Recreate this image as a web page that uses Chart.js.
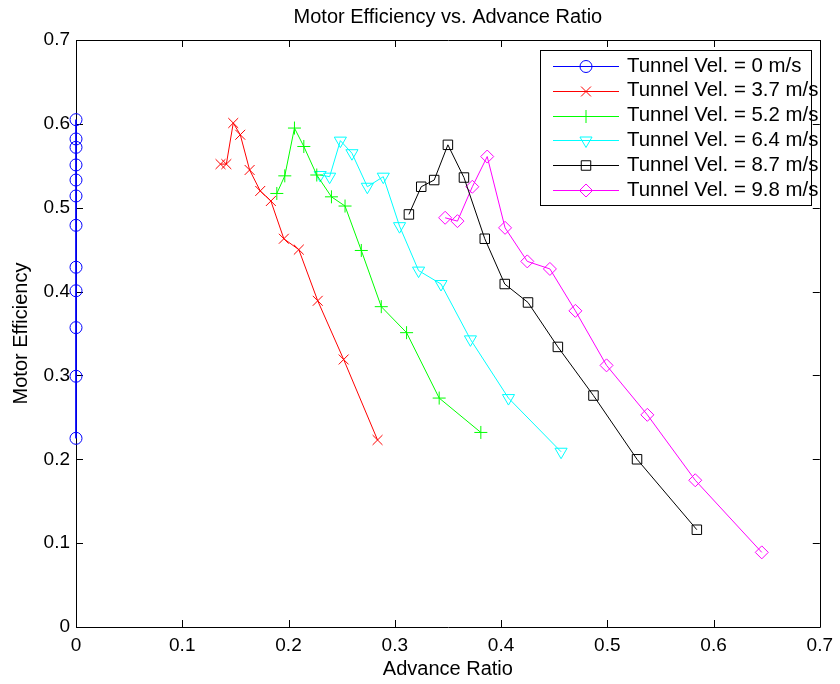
<!DOCTYPE html>
<html>
<head>
<meta charset="utf-8">
<script src="https://cdn.jsdelivr.net/npm/chart.js"></script>
<style>
html,body{margin:0;padding:0;background:#fff;}
canvas{display:block;}
</style>
</head>
<body>
<canvas id="c" width="840" height="684" style="width:840px;height:684px"></canvas>
<script>
// ---- data ----
const seriesLabels = ['Tunnel Vel. = 0 m/s','Tunnel Vel. = 3.7 m/s','Tunnel Vel. = 5.2 m/s','Tunnel Vel. = 6.4 m/s','Tunnel Vel. = 8.7 m/s','Tunnel Vel. = 9.8 m/s'];
const xTickValues = [0,0.1,0.2,0.3,0.4,0.5,0.6,0.7];
const yTickValues = [0,0.1,0.2,0.3,0.4,0.5,0.6,0.7];

const vel0X = [0,0,0,0,0,0,0,0,0,0,0,0];
const vel0Y = [0.605,0.582,0.572,0.551,0.533,0.514,0.479,0.429,0.401,0.357,0.299,0.225];

const vel37X = [0.136,0.1415,0.148,0.1546,0.1634,0.1734,0.1834,0.1956,0.2097,0.2275,0.2519,0.2838];
const vel37Y = [0.552,0.552,0.601,0.587,0.545,0.520,0.508,0.463,0.450,0.389,0.319,0.223];

const vel52X = [0.189,0.1965,0.2056,0.2144,0.2266,0.2404,0.2532,0.2685,0.2873,0.3111,0.3418,0.381];
const vel52Y = [0.517,0.538,0.595,0.573,0.539,0.513,0.502,0.449,0.382,0.351,0.273,0.232];

const vel64X = [0.2298,0.2387,0.2488,0.2597,0.2742,0.2892,0.3045,0.3224,0.3435,0.3712,0.407,0.4565];
const vel64Y = [0.539,0.537,0.580,0.565,0.525,0.537,0.478,0.425,0.409,0.343,0.273,0.209];

const vel87X = [0.3133,0.3249,0.3371,0.350,0.3651,0.3847,0.4035,0.4254,0.4535,0.487,0.528,0.5843];
const vel87Y = [0.492,0.525,0.533,0.575,0.536,0.463,0.409,0.387,0.334,0.276,0.200,0.116];

const vel98X = [0.3474,0.359,0.373,0.387,0.4038,0.4247,0.446,0.470,0.4993,0.5377,0.5828,0.6454];
const vel98Y = [0.488,0.484,0.525,0.561,0.476,0.436,0.427,0.377,0.312,0.253,0.175,0.089];

// ---- build ----
const FONT = "'Liberation Sans', Arial, Helvetica, sans-serif";
function pts(xs, ys){ return xs.map((x,i)=>({x:x, y:ys[i]})); }
const styles = [
  {color:'#0000ff', pointStyle:'circle',   radius:6,   rotation:0},
  {color:'#ff0000', pointStyle:'crossRot', radius:7,   rotation:0},
  {color:'#00ff00', pointStyle:'cross',    radius:6.5, rotation:0},
  {color:'#00ffff', pointStyle:'triangle', radius:7,   rotation:180},
  {color:'#000000', pointStyle:'rect',     radius:6.7, rotation:0},
  {color:'#ff00ff', pointStyle:'rectRot',  radius:6.5, rotation:0}
];
const seriesData = [pts(vel0X,vel0Y), pts(vel37X,vel37Y), pts(vel52X,vel52Y), pts(vel64X,vel64Y), pts(vel87X,vel87Y), pts(vel98X,vel98Y)];

const datasets = seriesData.map((d,i)=>({
  label: seriesLabels[i],
  data: d,
  showLine: true,
  fill: false,
  tension: 0,
  borderColor: styles[i].color,
  borderWidth: 1,
  pointStyle: styles[i].pointStyle,
  pointRadius: styles[i].radius,
  pointRotation: styles[i].rotation,
  pointBorderColor: styles[i].color,
  pointBackgroundColor: 'rgba(0,0,0,0)',
  pointBorderWidth: 1,
  clip: false
}));

function drawMarker(ctx, st, x, y){
  ctx.save();
  ctx.strokeStyle = st.color;
  ctx.fillStyle = 'rgba(0,0,0,0)';
  ctx.lineWidth = 1;
  if (Chart.helpers && Chart.helpers.drawPoint) {
    Chart.helpers.drawPoint(ctx, {pointStyle: st.pointStyle, rotation: st.rotation, radius: st.radius, borderWidth: 1}, x, y);
  } else {
    ctx.beginPath(); ctx.arc(x,y,st.radius,0,Math.PI*2); ctx.stroke();
  }
  ctx.restore();
}

const framePlugin = {
  id: 'frame',
  beforeDatasetsDraw(chart){
    const {ctx, chartArea:a, scales} = chart;
    const xs = scales.x, ys = scales.y;
    ctx.save();
    ctx.strokeStyle = '#000';
    ctx.lineWidth = 1;
    ctx.beginPath();
    ctx.rect(Math.round(a.left)+0.5, Math.round(a.top)+0.5, Math.round(a.right-a.left), Math.round(a.bottom-a.top));
    ctx.stroke();
    const tl = 7;
    ctx.beginPath();
    xTickValues.forEach(v=>{
      const px = Math.round(xs.getPixelForValue(v))+0.5;
      ctx.moveTo(px, a.bottom); ctx.lineTo(px, a.bottom-tl);
      ctx.moveTo(px, a.top); ctx.lineTo(px, a.top+tl);
    });
    yTickValues.forEach(v=>{
      const py = Math.round(ys.getPixelForValue(v))+0.5;
      ctx.moveTo(a.left, py); ctx.lineTo(a.left+tl, py);
      ctx.moveTo(a.right, py); ctx.lineTo(a.right-tl, py);
    });
    ctx.stroke();
    ctx.restore();
  },
  afterDatasetsDraw(chart){
    const ctx = chart.ctx;
    const bx = 540, by = 50, bw = 271, bh = 155;
    ctx.save();
    ctx.fillStyle = '#fff';
    ctx.fillRect(bx, by, bw, bh);
    ctx.strokeStyle = '#000';
    ctx.lineWidth = 1;
    ctx.strokeRect(bx+0.5, by+0.5, bw, bh);
    chart.data.datasets.forEach((ds,i)=>{
      const y = 66 + i*24.8;
      const st = styles[i];
      ctx.strokeStyle = st.color;
      ctx.lineWidth = 1;
      ctx.beginPath();
      ctx.moveTo(553, Math.round(y)+0.5); ctx.lineTo(619, Math.round(y)+0.5);
      ctx.stroke();
      drawMarker(ctx, st, 586, Math.round(y)+0.5);
      ctx.fillStyle = '#000';
      ctx.font = '20.4px ' + FONT;
      ctx.textBaseline = 'middle';
      ctx.textAlign = 'left';
      ctx.fillText(ds.label, 627, y);
    });
    ctx.restore();
  }
};

Chart.defaults.font.family = FONT;
Chart.defaults.color = '#000';

new Chart(document.getElementById('c'), {
  type: 'scatter',
  data: { datasets: datasets },
  options: {
    responsive: false,
    animation: false,
    events: [],
    layout: { padding: { left: 0, right: 19, top: 0, bottom: 0 } },
    plugins: { legend: { display: false }, tooltip: { enabled: false }, title: { display: false } },
    scales: {
      x: {
        type: 'linear', position: 'bottom', min: 0, max: 0.7,
        afterBuildTicks: s => { s.ticks = xTickValues.map(v=>({value:v})); },
        afterFit: s => { s.height = 57; },
        grid: { display: false, drawTicks: false },
        border: { display: false },
        ticks: { font: { size: 19 }, color: '#000', padding: 7, maxRotation: 0, autoSkip: false,
                 callback: v => String(+v.toFixed(1)) },
        title: { display: true, text: 'Advance Ratio', font: { size: 20 }, color: '#000', padding: { top: 0, bottom: 3 } }
      },
      xTop: {
        type: 'linear', position: 'top', min: 0, max: 0.7,
        afterFit: s => { s.height = 40; },
        grid: { display: false, drawTicks: false },
        border: { display: false },
        ticks: { display: false },
        title: { display: true, text: 'Motor Efficiency vs. Advance Ratio', font: { size: 20 }, color: '#000', padding: { top: 5, bottom: 0 } }
      },
      y: {
        type: 'linear', position: 'left', min: 0, max: 0.7,
        afterBuildTicks: s => { s.ticks = yTickValues.map(v=>({value:v})); },
        afterFit: s => { s.width = 76; },
        grid: { display: false, drawTicks: false },
        border: { display: false },
        ticks: { font: { size: 19 }, color: '#000', padding: 6, autoSkip: false,
                 callback: v => String(+v.toFixed(1)) },
        title: { display: true, text: 'Motor Efficiency', font: { size: 20 }, color: '#000', padding: { top: 9, bottom: 0 } }
      }
    }
  },
  plugins: [framePlugin]
});
</script>
</body>
</html>
